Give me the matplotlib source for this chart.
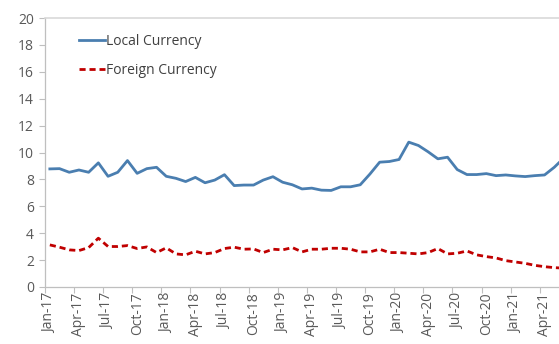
import numpy as np
import matplotlib
matplotlib.use("Agg")
import matplotlib.pyplot as plt

# monthly series, Jan-17 .. Jun-21
local_ccy = [8.78, 8.80, 8.53, 8.70, 8.53, 9.23, 8.23, 8.53, 9.40, 8.45, 8.80, 8.90,
             8.23, 8.08, 7.84, 8.15, 7.75, 7.95, 8.35, 7.54, 7.58, 7.58, 7.95, 8.20,
             7.79, 7.60, 7.29, 7.35, 7.20, 7.18, 7.45, 7.45, 7.60, 8.40, 9.28, 9.33,
             9.48, 10.77, 10.52, 10.05, 9.53, 9.65, 8.73, 8.36, 8.36, 8.43, 8.28, 8.33,
             8.26, 8.21, 8.28, 8.33, 8.90, 9.60]
foreign_ccy = [3.13, 2.96, 2.76, 2.71, 2.93, 3.63, 3.01, 3.01, 3.08, 2.86, 2.98, 2.56,
               2.91, 2.46, 2.39, 2.66, 2.46, 2.56, 2.86, 2.96, 2.81, 2.83, 2.56, 2.81,
               2.76, 2.93, 2.61, 2.81, 2.81, 2.88, 2.88, 2.81, 2.61, 2.61, 2.81, 2.56,
               2.56, 2.51, 2.46, 2.56, 2.86, 2.46, 2.51, 2.68, 2.39, 2.26, 2.16, 1.96,
               1.86, 1.76, 1.61, 1.51, 1.44, 1.40]
mon_names = ["Jan", "Feb", "Mar", "Apr", "May", "Jun",
             "Jul", "Aug", "Sep", "Oct", "Nov", "Dec"]
months = ["%s-%d" % (mon_names[i % 12], 17 + i // 12) for i in range(len(local_ccy))]

plt.rcParams['font.family'] = ['Open Sans', 'DejaVu Sans']
txt_col = '#595959'

fig = plt.figure(figsize=(5.59, 3.44), dpi=100)
ax = fig.add_axes([45 / 559, 57 / 344, 523.8 / 559, 269 / 344])

x = np.arange(len(months))
ax.plot(x, local_ccy, color='#4a7eb0', lw=2.0, label='Local Currency',
        solid_joinstyle='round')
ax.plot(x, foreign_ccy, color='#c00000', lw=2.0, ls=(0, (2.2, 1.4)),
        label='Foreign Currency')

ax.set_xlim(-0.5, len(months) - 0.5)
ax.set_ylim(0, 20)
ax.set_yticks(range(0, 21, 2))

# labels centred on every third month, tick marks on the month boundaries
lab_idx = x[::3]
ax.set_xticks(lab_idx)
ax.set_xticklabels([months[i] for i in lab_idx], rotation=90)
ax.set_xticks(lab_idx - 0.5, minor=True)
ax.tick_params(axis='x', which='major', length=0, pad=4,
               labelsize=10, labelcolor=txt_col)
ax.tick_params(axis='x', which='minor', length=4, color='#bfbfbf', width=0.8)
ax.tick_params(axis='y', length=4, color='#bfbfbf', width=0.8,
               labelsize=10, labelcolor=txt_col, pad=4)

for s in ['left', 'bottom']:
    ax.spines[s].set_color('#bfbfbf')
    ax.spines[s].set_linewidth(0.9)
ax.spines['top'].set_color('#d9d9d9')
ax.spines['top'].set_linewidth(1.2)
ax.spines['right'].set_visible(False)

leg = ax.legend(loc='upper left', bbox_to_anchor=(0.055, 0.962), frameon=False,
                fontsize=10, handlelength=1.85, handletextpad=0.1,
                labelspacing=1.0, borderaxespad=0)
for t in leg.get_texts():
    t.set_color('#404040')

fig.savefig('out.png', dpi=100)
